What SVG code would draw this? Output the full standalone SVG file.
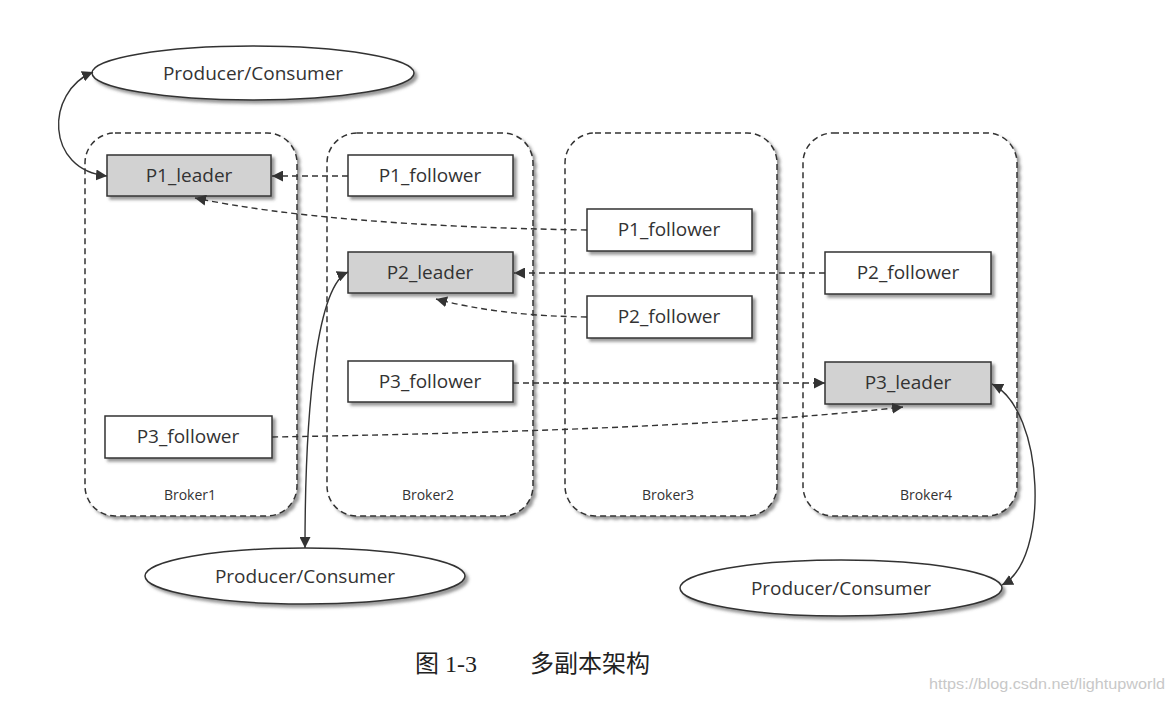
<svg xmlns="http://www.w3.org/2000/svg" width="1174" height="702" viewBox="0 0 1174 702">
<defs>
<filter id="sh" x="-10%" y="-10%" width="130%" height="130%">
<feDropShadow dx="3" dy="3" stdDeviation="1.8" flood-color="#555" flood-opacity="0.6"/>
</filter>
<marker id="ah" viewBox="0 0 10 10" refX="10" refY="5" markerWidth="11" markerHeight="11" markerUnits="userSpaceOnUse" orient="auto-start-reverse">
<path d="M0,0 L10,5 L0,10 z" fill="#333"/>
</marker>
</defs>
<style>
.broker{fill:#fff;stroke:#333;stroke-width:1.5;stroke-dasharray:6 4;filter:url(#sh)}
.box{fill:#fff;stroke:#333;stroke-width:1.5;filter:url(#sh)}
.lead{fill:#d2d2d2;stroke:#333;stroke-width:1.5;filter:url(#sh)}
.ell{fill:#fff;stroke:#333;stroke-width:1.5;filter:url(#sh)}
.t{font-family:"Open Sans","Liberation Sans",sans-serif;font-size:19px;fill:#333;text-anchor:middle}
.bt{font-family:"Open Sans","Liberation Sans",sans-serif;font-size:14px;fill:#333;text-anchor:middle}
.dash{fill:none;stroke:#333;stroke-width:1.4;stroke-dasharray:6 4;marker-end:url(#ah)}
.solid{fill:none;stroke:#333;stroke-width:1.4;marker-start:url(#ah);marker-end:url(#ah)}
.cap{font-family:"Liberation Serif","Noto Sans CJK SC",serif;font-size:24px;fill:#222}
</style>
<rect width="1174" height="702" fill="#fff"/>
<g id="broker1"><rect class="broker" x="85" y="133" width="212" height="383" rx="30"/><text class="bt" x="190" y="500">Broker1</text></g>
<g id="broker2"><rect class="broker" x="327" y="133" width="206" height="383" rx="30"/><text class="bt" x="428" y="500">Broker2</text></g>
<g id="broker3"><rect class="broker" x="565" y="133" width="212" height="383" rx="30"/><text class="bt" x="668" y="500">Broker3</text></g>
<g id="broker4"><rect class="broker" x="803" y="133" width="214" height="383" rx="30"/><text class="bt" x="926" y="500">Broker4</text></g>
<g id="p1_leader"><rect class="lead" x="107" y="155" width="164" height="41"/><text class="t" x="189" y="182">P1_leader</text></g>
<g id="p1_follower_b2"><rect class="box" x="348" y="155" width="165" height="41"/><text class="t" x="430" y="182">P1_follower</text></g>
<g id="p1_follower_b3"><rect class="box" x="587" y="209" width="165" height="42"/><text class="t" x="669" y="236">P1_follower</text></g>
<g id="p2_leader"><rect class="lead" x="348" y="252" width="165" height="41"/><text class="t" x="430" y="279">P2_leader</text></g>
<g id="p2_follower_b4"><rect class="box" x="825" y="252" width="166" height="42"/><text class="t" x="908" y="279">P2_follower</text></g>
<g id="p2_follower_b3"><rect class="box" x="587" y="296" width="165" height="42"/><text class="t" x="669" y="323">P2_follower</text></g>
<g id="p3_follower_b2"><rect class="box" x="348" y="361" width="165" height="41"/><text class="t" x="430" y="388">P3_follower</text></g>
<g id="p3_leader"><rect class="lead" x="825" y="362" width="166" height="42"/><text class="t" x="908" y="389">P3_leader</text></g>
<g id="p3_follower_b1"><rect class="box" x="105" y="416" width="167" height="42"/><text class="t" x="188" y="443">P3_follower</text></g>
<g id="pc_top"><ellipse class="ell" cx="253" cy="73" rx="161" ry="27"/><text class="t" x="253" y="80">Producer/Consumer</text></g>
<g id="pc_bl"><ellipse class="ell" cx="305" cy="576" rx="160" ry="28"/><text class="t" x="305" y="583">Producer/Consumer</text></g>
<g id="pc_br"><ellipse class="ell" cx="841" cy="588" rx="161" ry="28"/><text class="t" x="841" y="595">Producer/Consumer</text></g>
<g id="connectors">
<path class="dash" d="M348,176 L272,176"/>
<path class="dash" d="M587,230 Q330,226 195,198"/>
<path class="dash" d="M825,273 L514,273"/>
<path class="dash" d="M587,317 Q500,316 436,299"/>
<path class="dash" d="M513,383 L825,383"/>
<path class="dash" d="M272,437 Q700,430 903,407"/>
<path class="solid" d="M93,72 C45,92 45,170 107,176"/>
<path class="solid" d="M348,272 C318,285 305,400 305,548"/>
<path class="solid" d="M992,384 C1045,410 1050,560 1002,585"/>
</g>
<text class="cap" x="415" y="672">图 1-3</text>
<text class="cap" x="530" y="672">多副本架构</text>
<text x="1165" y="689" font-family="'Liberation Sans',sans-serif" font-size="14" fill="#c8c8c8" text-anchor="end" textLength="236" lengthAdjust="spacingAndGlyphs">https://blog.csdn.net/lightupworld</text>
</svg>
